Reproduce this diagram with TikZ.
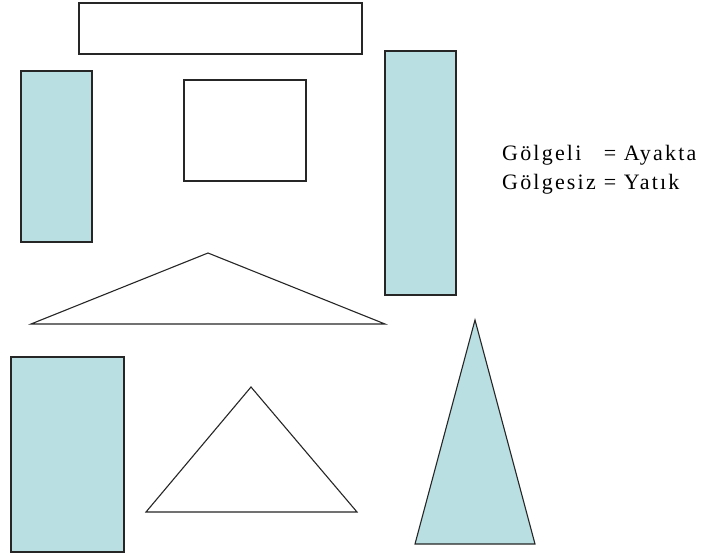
\documentclass[tikz,border=0pt]{standalone}
\usepackage{fontspec}
\setmainfont{Liberation Serif}
\newfontfamily\lblfont[LetterSpace=10]{Liberation Serif}
\definecolor{shade}{RGB}{185,223,226}
\tikzset{
  outlined/.style={draw=black!85, line width=1.1pt, line join=miter},
  shaded/.style={outlined, fill=shade},
  plain/.style={outlined, fill=white},
}
\begin{document}
\begin{tikzpicture}[x=1pt,y=-1pt]
\useasboundingbox (0,0) rectangle (705,556);
% rectangles
\draw[plain]  (79,3) rectangle (362,54);
\draw[shaded] (21,71) rectangle (92,242);
\draw[plain]  (184,80) rectangle (306,181);
\draw[shaded] (385,51) rectangle (456,295);
\draw[shaded] (11,357) rectangle (124,552);
% triangles
\draw[plain]  (31,324) -- (208,253) -- (385,324) -- cycle;
\draw[plain]  (146,512) -- (251,387) -- (357,512) -- cycle;
\draw[shaded] (415,544) -- (475,320) -- (535,544) -- cycle;
% legend
\node[anchor=base west, inner sep=0pt, font=\lblfont\fontsize{22}{29}\selectfont] (legend) at (502,161)
  {\begin{tabular}[t]{@{}l@{\hspace{8pt}}l@{}}
   Gölgeli & = Ayakta\\
   Gölgesiz & = Yatık
   \end{tabular}};
\end{tikzpicture}
\end{document}
